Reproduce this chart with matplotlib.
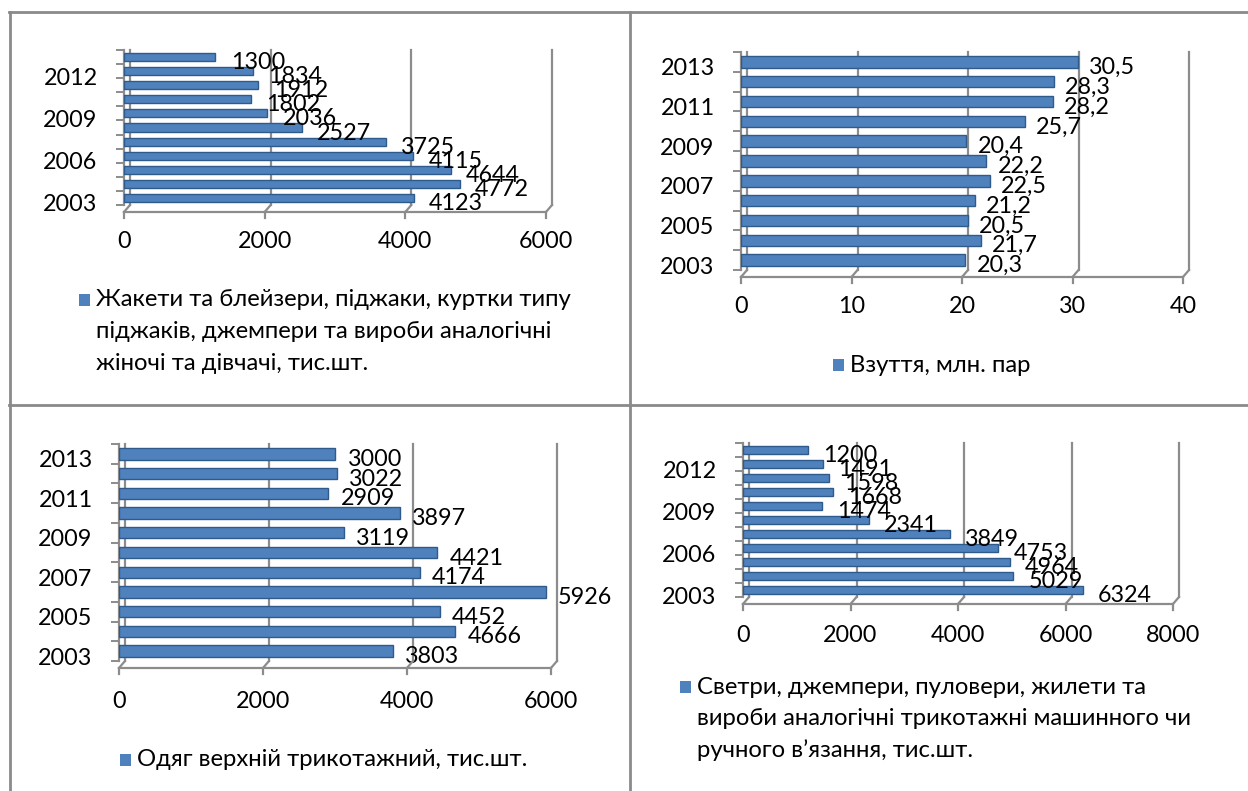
import matplotlib
matplotlib.use("Agg")
import matplotlib.pyplot as plt
import matplotlib.transforms as mtransforms
from matplotlib.patches import Rectangle
from matplotlib.lines import Line2D

plt.rcParams['font.family'] = ['Lato', 'DejaVu Sans']

years = list(range(2003, 2014))

jackets = [4123, 4772, 4644, 4115, 3725, 2527, 2036, 1802, 1912, 1834, 1300]
jackets_labels = ["4123", "4772", "4644", "4115", "3725", "2527", "2036", "1802", "1912", "1834", "1300"]
jackets_ticks = [0, 2000, 4000, 6000]
jackets_years = [2003, 2006, 2009, 2012]
jackets_legend = ["Жакети та блейзери, піджаки, куртки типу",
                  "піджаків, джемпери та вироби аналогічні",
                  "жіночі та дівчачі, тис.шт."]

shoes = [20.3, 21.7, 20.5, 21.2, 22.5, 22.2, 20.4, 25.7, 28.2, 28.3, 30.5]
shoes_labels = ["20,3", "21,7", "20,5", "21,2", "22,5", "22,2", "20,4", "25,7", "28,2", "28,3", "30,5"]
shoes_ticks = [0, 10, 20, 30, 40]
shoes_years = [2003, 2005, 2007, 2009, 2011, 2013]
shoes_legend = ["Взуття, млн. пар"]

outer = [3803, 4666, 4452, 5926, 4174, 4421, 3119, 3897, 2909, 3022, 3000]
outer_labels = ["3803", "4666", "4452", "5926", "4174", "4421", "3119", "3897", "2909", "3022", "3000"]
outer_ticks = [0, 2000, 4000, 6000]
outer_years = [2003, 2005, 2007, 2009, 2011, 2013]
outer_legend = ["Одяг верхній трикотажний, тис.шт."]

sweaters = [6324, 5029, 4964, 4753, 3849, 2341, 1474, 1668, 1598, 1491, 1200]
sweaters_labels = ["6324", "5029", "4964", "4753", "3849", "2341", "1474", "1668", "1598", "1491", "1200"]
sweaters_ticks = [0, 2000, 4000, 6000, 8000]
sweaters_years = [2003, 2006, 2009, 2012]
sweaters_legend = ["Светри, джемпери, пуловери, жилети та",
                   "вироби аналогічні трикотажні машинного чи",
                   "ручного в’язання, тис.шт."]

W, H = 1248, 791
DPI = 100
fig = plt.figure(figsize=(W / DPI, H / DPI), dpi=DPI)

BAR = "#4F81BD"
EDGE = "#2F5A8C"
GRID = "#8C8C8C"
FS = 16.8
LEG_FS = 17.2


def px_axes(left, top, right, bottom):
    return fig.add_axes([left / W, 1 - bottom / H, (right - left) / W, (bottom - top) / H])


def fig_line(p0, p1, **kw):
    inv = fig.transFigure.inverted()
    a, b = inv.transform([p0, p1])
    fig.add_artist(Line2D([a[0], b[0]], [a[1], b[1]], transform=fig.transFigure, **kw))


def panel(box, values, labels, xticks, ylab_years, legend, legend_xy, label_pad, xpad):
    ax = px_axes(*box)
    n = len(values)
    pos = list(range(n))
    xmax = xticks[-1]
    ax.set_xlim(0, xmax)
    ax.set_ylim(-0.5, n - 0.5)
    for s in ax.spines.values():
        s.set_visible(False)
    ax.patch.set_alpha(0)

    back = mtransforms.blended_transform_factory(
        mtransforms.offset_copy(ax.transData, fig=fig, x=6, y=0, units='dots'), ax.transAxes)
    # back wall gridlines
    for t in xticks:
        ax.add_line(Line2D([t, t], [0, 1], transform=back, color=GRID, lw=1.6,
                           zorder=1, clip_on=False))
    # left wall
    ax.add_line(Line2D([0, 0], [0, 1], transform=ax.transAxes, color=GRID, lw=1.6,
                       zorder=1, clip_on=False))
    # floor front edge
    floor = mtransforms.offset_copy(ax.transAxes, fig=fig, x=0, y=-7, units='dots')
    ax.add_line(Line2D([0, 1], [0, 0], transform=floor, color=GRID, lw=1.6, zorder=1, clip_on=False))
    for t in xticks:
        a = ax.transData.transform((t, 0))
        a = (a[0], ax.transAxes.transform((0, 0))[1])
        fig_line((a[0], a[1] - 7), (a[0] + 6, a[1]), color=GRID, lw=1.6)
        fig_line((a[0], a[1] - 7), (a[0], a[1] - 13), color=GRID, lw=1.6)

    ax.barh(pos, values, height=0.58, color=BAR, edgecolor=EDGE, linewidth=1.0, zorder=3)
    for p, v, lab in zip(pos, values, labels):
        ax.annotate(lab, (v, p), xytext=(label_pad, -4), textcoords='offset points',
                    ha='left', va='center', fontsize=FS, color='black', zorder=4,
                    annotation_clip=False)

    # y ticks at category boundaries
    ax.set_yticks([p - 0.5 for p in range(n + 1)], minor=True)
    ax.tick_params(axis='y', which='minor', length=6, width=1.4, color=GRID, direction='out')
    ax.set_yticks([y - years[0] for y in ylab_years])
    ax.set_yticklabels([str(y) for y in ylab_years], fontsize=FS)
    ax.tick_params(axis='y', which='major', length=0, pad=19)
    off = mtransforms.ScaledTranslation(0, -5 / DPI, fig.dpi_scale_trans)
    for lab in ax.get_yticklabels():
        lab.set_transform(lab.get_transform() + off)
    ax.set_xticks(xticks)
    ax.set_xticklabels([str(t) for t in xticks], fontsize=FS)
    ax.tick_params(axis='x', length=0, pad=xpad)

    # legend: square + text lines
    lx, ly = legend_xy
    fig.add_artist(Rectangle((lx / W, 1 - (ly + 6) / H), 11 / W, 12 / H,
                             transform=fig.transFigure, facecolor=BAR, edgecolor='none'))
    for i, line in enumerate(legend):
        fig.text((lx + 17) / W, 1 - (ly + i * 31.5) / H, line, ha='left', va='center',
                 fontsize=LEG_FS, color='black')
    return ax


panel((124, 50, 546, 205), jackets, jackets_labels, jackets_ticks, jackets_years,
      jackets_legend, (79, 300), 11, 18.5)
panel((741, 52, 1183, 270), shoes, shoes_labels, shoes_ticks, shoes_years,
      shoes_legend, (833, 365), 8, 18.5)
panel((119, 444, 551, 661), outer, outer_labels, outer_ticks, outer_years,
      outer_legend, (120, 760), 9, 21.5)
panel((743, 443, 1173, 597), sweaters, sweaters_labels, sweaters_ticks, sweaters_years,
      sweaters_legend, (680, 687), 11, 20.5)


def hline(y, x0, x1):
    fig_line((x0, H - y), (x1, H - y), color="#8A8A8A", lw=2)


def vline(x, y0, y1):
    fig_line((x, H - y0), (x, H - y1), color="#8A8A8A", lw=2)


hline(12, 9, W)
hline(405, 9, W)
vline(10, 12, H)
vline(630, 12, H)

fig.savefig("out.png", dpi=DPI)
